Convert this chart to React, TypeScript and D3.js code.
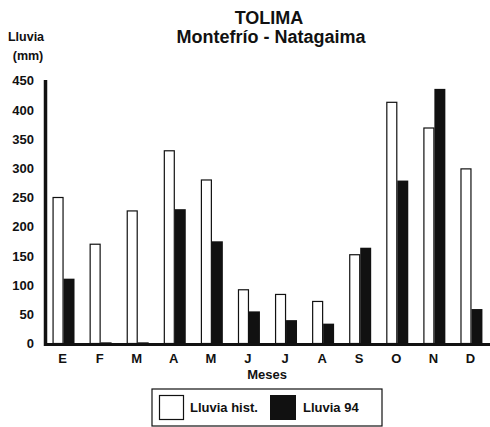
import React from "react";
import * as d3 from "d3";

const months = ["E", "F", "M", "A", "M", "J", "J", "A", "S", "O", "N", "D"];
const lluviaHist = [250, 170, 227, 330, 280, 92, 84, 72, 152, 413, 369, 299];
const lluvia94 = [111, 2, 2, 230, 175, 55, 40, 34, 164, 279, 436, 59];
const yTicks = [0, 50, 100, 150, 200, 250, 300, 350, 400, 450];
const seriesKeys = ["hist", "94"];
const legendLabels = ["Lluvia hist.", "Lluvia 94"];

const W = 490;
const H = 427;
const FONT = "'Liberation Sans', Arial, Helvetica, sans-serif";

export default function App() {
  const x = d3
    .scaleBand<number>()
    .domain(months.map((_, i) => i))
    .range([45, 490])
    .paddingInner(0)
    .paddingOuter(0);
  const xSub = d3
    .scaleBand<string>()
    .domain(seriesKeys)
    .range([0, x.bandwidth()])
    .paddingInner(0)
    .paddingOuter(0.69);
  const y = d3.scaleLinear().domain([0, 450]).range([343.5, 80.7]);

  const bw = xSub.bandwidth();

  return (
    <svg
      width={W}
      height={H}
      style={{ position: "absolute", left: 0, top: 0, background: "#fff" }}
      fontFamily={FONT}
    >
      <rect x={0} y={0} width={W} height={H} fill="#fff" />
      {/* Title */}
      <text x={269} y={23.5} textAnchor="middle" fontSize={18} fontWeight="bold" fill="#111">
        TOLIMA
      </text>
      <text x={271} y={43.3} textAnchor="middle" fontSize={18} fontWeight="bold" fill="#111">
        Montefrío - Natagaima
      </text>
      {/* Y axis title */}
      <text x={26} y={41} textAnchor="middle" fontSize={12.5} fontWeight="bold" fill="#111">
        Lluvia
      </text>
      <text x={28} y={60} textAnchor="middle" fontSize={12.5} fontWeight="bold" fill="#111">
        (mm)
      </text>
      {/* Y ticks */}
      {yTicks.map((t) => (
        <text
          key={t}
          x={34}
          y={y(t)}
          dy="0.36em"
          textAnchor="end"
          fontSize={13}
          fontWeight="bold"
          fill="#111"
        >
          {t}
        </text>
      ))}
      {/* Bars */}
      {months.map((m, i) => {
        const x0 = x(i)!;
        return (
          <g key={i}>
            <rect
              x={x0 + xSub("hist")! + 0.5}
              y={y(lluviaHist[i])}
              width={bw - 1}
              height={y(0) - y(lluviaHist[i])}
              fill="#fff"
              stroke="#111"
              strokeWidth={1.2}
            />
            <rect
              x={x0 + xSub("94")!}
              y={y(lluvia94[i])}
              width={bw}
              height={y(0) - y(lluvia94[i])}
              fill="#111"
            />
          </g>
        );
      })}
      {/* Axes */}
      <line x1={45.5} x2={45.5} y1={80} y2={346} stroke="#111" strokeWidth={3.5} />
      <line x1={44} x2={490} y1={y(0) + 1} y2={y(0) + 1} stroke="#111" strokeWidth={3} />
      {/* Month labels */}
      {months.map((m, i) => (
        <text
          key={i}
          x={x(i)! + x.bandwidth() / 2 - 1}
          y={363}
          textAnchor="middle"
          fontSize={13}
          fontWeight="bold"
          fill="#111"
        >
          {m}
        </text>
      ))}
      <text x={267} y={379} textAnchor="middle" fontSize={13} fontWeight="bold" fill="#111">
        Meses
      </text>
      {/* Legend */}
      <rect x={152} y={389} width={230} height={37} fill="#fff" stroke="#111" strokeWidth={1.2} />
      <rect x={159.5} y={395.5} width={24} height={24} fill="#fff" stroke="#111" strokeWidth={1.2} />
      <text x={190} y={412} fontSize={13} fontWeight="bold" fill="#111">
        {legendLabels[0]}
      </text>
      <rect x={270} y={395} width={26} height={25} fill="#111" />
      <text x={303} y={412} fontSize={13} fontWeight="bold" fill="#111">
        {legendLabels[1]}
      </text>
    </svg>
  );
}
